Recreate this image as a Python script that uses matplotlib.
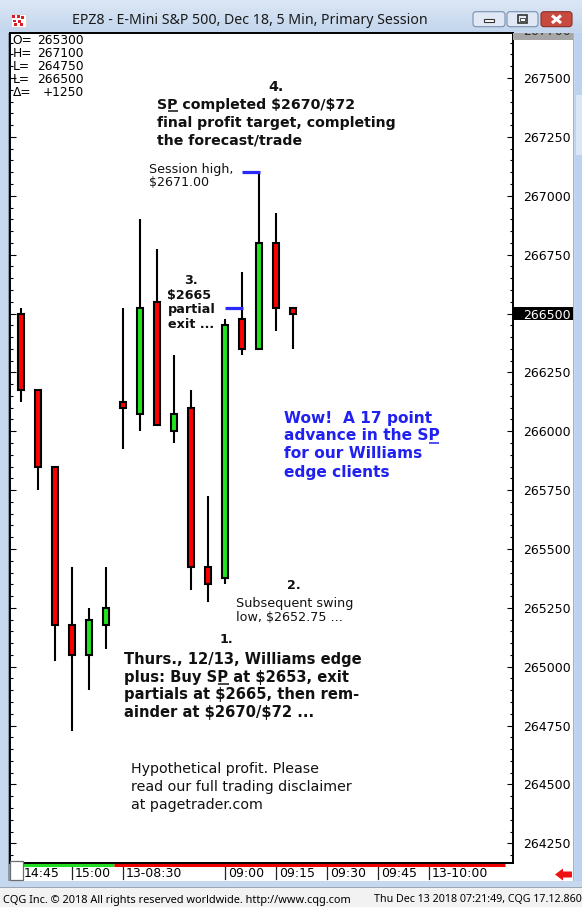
import matplotlib
matplotlib.use('Agg')
import matplotlib.pyplot as plt
import matplotlib.transforms as mtransforms
from matplotlib.patches import Rectangle, FancyBboxPatch, Polygon
from matplotlib.ticker import MultipleLocator, FixedLocator
from matplotlib.colors import LinearSegmentedColormap
import numpy as np

# ---------------- data ----------------
candle_idx = list(range(17))
opens  = [266500, 266175, 265850, 265175, 265050, 265175, 266125, 266075, 266550,
          266000, 266100, 265425, 265375, 266475, 266350, 266800, 266525]
highs  = [266525, 266175, 265850, 265425, 265250, 265425, 266525, 266900, 266775,
          266325, 266175, 265725, 266475, 266675, 267100, 266925, 266525]
lows   = [266125, 265750, 265025, 264725, 264900, 265075, 265925, 266000, 266025,
          265950, 265325, 265275, 265350, 266325, 266350, 266425, 266350]
closes = [266175, 265850, 265175, 265050, 265200, 265250, 266100, 266525, 266025,
          266075, 265425, 265350, 266450, 266350, 266800, 266525, 266500]

time_tick_idx = [0, 3, 6, 12, 15, 18, 21, 24]
time_tick_labels = ['14:45', '15:00', '13-08:30', '09:00', '09:15', '09:30', '09:45', '13-10:00']
prev_session_end = 5.47          # boundary between sessions (bar index)
session_bar_end = 28.47

price_ticks = list(range(264250, 267501, 250))
last_price = 266500
axis_top_label = '267700'

ohlc_keys = ['O=', 'H=', 'L=', 'L=', 'Δ=']
ohlc_vals = ['265300', '267100', '264750', '266500', '+1250']

marker_prices = [266525, 267100]   # partial exit, session high
marker_idx = [13, 14]

title = 'EPZ8 - E-Mini S&P 500, Dec 18, 5 Min, Primary Session'
status_left = 'CQG Inc. © 2018 All rights reserved worldwide. http://www.cqg.com'
status_right = 'Thu Dec 13 2018 07:21:49, CQG 17.12.860'

# ---------------- figure ----------------
W, H = 582, 907
fig = plt.figure(figsize=(W / 100, H / 100), dpi=100)
fig.patch.set_facecolor('#c6d8ee')
renderer = fig.canvas.get_renderer()

def px_axes(l, t, r, b, **kw):
    return fig.add_axes([l / W, 1 - b / H, (r - l) / W, (b - t) / H], **kw)

bg = fig.add_axes([0, 0, 1, 1], zorder=0)
bg.set_xlim(0, W); bg.set_ylim(H, 0); bg.axis('off')

# title bar gradient
grad = np.linspace(0, 1, 64).reshape(-1, 1)
cm = LinearSegmentedColormap.from_list('tb', ['#dce7f5', '#c3d6ed'])
bg.imshow(grad, cmap=cm, extent=(0, W, 32, 0), aspect='auto', zorder=0)
# chart white area
bg.add_patch(Rectangle((10, 33), 563, 848, facecolor='white', edgecolor='none', zorder=1))
bg.add_patch(Rectangle((8, 33), 2, 848, facecolor='#8a9bb0', edgecolor='none', zorder=1))
# scrollbar
bg.add_patch(Rectangle((573, 33), 1, 848, facecolor='#b0b0b0', edgecolor='none', zorder=1))
bg.add_patch(Rectangle((575, 33), 7, 848, facecolor='#bcd2ee', edgecolor='none', zorder=1))
bg.add_patch(Rectangle((576, 95), 6, 60, facecolor='#d9e6f6', edgecolor='none', zorder=1))
# status bar
bg.add_patch(Rectangle((0, 887), W, 1, facecolor='#9aa7b5', edgecolor='none', zorder=1))
bg.add_patch(Rectangle((0, 888), W, 19, facecolor='#f2f2f2', edgecolor='none', zorder=1))

# buttons
def button(x0, x1, face, edge):
    bg.add_patch(FancyBboxPatch((x0, 11.7), x1 - x0, 15, boxstyle='round,pad=0,rounding_size=3',
                                facecolor=face, edgecolor=edge, lw=0.8, zorder=2))
button(473, 505, '#dfe8f4', '#7990ae')
button(507, 538, '#dfe8f4', '#7990ae')
button(541, 572, '#c84a3f', '#8a2f28')
bg.add_patch(Rectangle((484, 19), 10, 3, facecolor='white', edgecolor='#333333', lw=0.8, zorder=3))
bg.add_patch(Rectangle((518, 15), 9, 8, facecolor='none', edgecolor='#333333', lw=1.2, zorder=3))
bg.add_patch(Rectangle((520, 17.5), 5, 3, facecolor='white', edgecolor='#333333', lw=0.6, zorder=3))
bg.plot([552, 561], [15.5, 23], color='white', lw=2.2, zorder=3, solid_capstyle='butt')
bg.plot([552, 561], [23, 15.5], color='white', lw=2.2, zorder=3, solid_capstyle='butt')
# icon
bg.add_patch(Rectangle((10.5, 13.5), 15, 13, facecolor='white', edgecolor='#d0d0d0', lw=0.5, zorder=2))
for (ix, iy) in [(12, 15), (17, 15), (21, 16), (13, 19.5), (18, 20), (14, 23), (20, 23)]:
    bg.add_patch(Rectangle((ix, iy), 3, 2.5, facecolor='#d81f26', edgecolor='none', zorder=3))

# ---------------- main price axes ----------------
ax = px_axes(10, 33, 513, 863, zorder=1)
ax.set_facecolor('white')
px_per_unit = 0.23547
y_last_px = 313.5
ymin = last_price - (863 - y_last_px) / px_per_unit
ymax = last_price + (y_last_px - 33) / px_per_unit
ax.set_ylim(ymin, ymax)
ax.set_xlim((10 - 21) / 17, (513 - 21) / 17)

for s in ax.spines.values():
    s.set_linewidth(1.4)
    s.set_color('black')

body_w = 0.31
for i, o, h, l, c in zip(candle_idx, opens, highs, lows, closes):
    ax.vlines(i, l, h, color='black', lw=1.5, zorder=2)
    col = '#1fe51f' if c > o else '#ff0000'
    lo_, hi_ = min(o, c), max(o, c)
    ax.add_patch(Rectangle((i - body_w / 2, lo_), body_w, hi_ - lo_,
                           facecolor=col, edgecolor='black', lw=1.5, zorder=3))

for mi, mp in zip(marker_idx, marker_prices):
    ax.hlines(mp, mi - 1, mi + 0.06, color='#2a2aff', lw=2.3, zorder=4)

ax.yaxis.set_major_locator(FixedLocator(price_ticks))
ax.yaxis.set_minor_locator(MultipleLocator(50))
ax.tick_params(axis='y', which='both', direction='in', left=True, right=True,
               labelleft=False, labelright=True, width=0.8, colors='black')
ax.tick_params(axis='y', which='major', length=4.5, pad=7.0, labelsize=9)
ax.tick_params(axis='y', which='minor', length=2.0)
ax.yaxis.set_major_formatter(matplotlib.ticker.FuncFormatter(lambda v, p: f'{int(v)}'))
ax.tick_params(axis='x', bottom=False, labelbottom=False)
ax.set_xticks([])

blend = mtransforms.blended_transform_factory(ax.transData, ax.transAxes)
ax_h = 830.0
for ti, tl in zip(time_tick_idx, time_tick_labels):
    ax.plot([ti, ti], [-4 / ax_h, -15.5 / ax_h], transform=blend, color='#222222', lw=0.9, clip_on=False)
    off = mtransforms.ScaledTranslation(3 / 100, -14.3 / 100, fig.dpi_scale_trans)
    ax.text(ti, 0, tl, transform=blend + off, ha='left', va='baseline', fontsize=9,
            family='DejaVu Sans', color='black', clip_on=False)

ax.plot([ax.get_xlim()[0], prev_session_end], [-2 / ax_h, -2 / ax_h], transform=blend,
        color='#22dd22', lw=2.2, clip_on=False, solid_capstyle='butt', zorder=5)
ax.plot([prev_session_end, session_bar_end], [-2 / ax_h, -2 / ax_h], transform=blend,
        color='#ee0000', lw=2.2, clip_on=False, solid_capstyle='butt', zorder=5)

# last price highlight
blend_y = mtransforms.blended_transform_factory(ax.transAxes, ax.transData)
half = 6.5 / px_per_unit
ax.add_patch(Rectangle((1.0, last_price - half), 60 / 503, 2 * half, transform=blend_y,
                       facecolor='black', edgecolor='none', clip_on=False, zorder=1))

# ---------------- overlay (texts, decorations) ----------------
ov = fig.add_axes([0, 0, 1, 1], zorder=5)
ov.set_xlim(0, W); ov.set_ylim(H, 0); ov.axis('off')
ov.patch.set_alpha(0)

def width_of(s, size, weight='normal', family='DejaVu Sans'):
    t = fig.text(0, 0, s, fontsize=size, fontweight=weight, family=family, parse_math=False)
    w = t.get_window_extent(renderer).width
    t.remove()
    return w

def fit(s, target, weight='normal', family='DejaVu Sans'):
    return 10 * target / width_of(s, 10, weight, family)

def put(x, y, s, size, weight='normal', color='#111111', family='DejaVu Sans', ha='left', ul=None):
    ov.text(x, y, s, fontsize=size, fontweight=weight, color=color, family=family,
            ha=ha, va='baseline', parse_math=False)
    if ul is not None:
        a, b = ul
        w0 = width_of(s[:a], size, weight, family) if a > 0 else 0
        w1 = width_of(s[:b], size, weight, family)
        ov.plot([x + w0 + 0.5, x + w1], [y + 2.2, y + 2.2], color=color, lw=1.1,
                solid_capstyle='butt')

# title + status
fs_title = fit(title, 355, family='Noto Sans')
put(72, 24.5, title, fs_title, family='Noto Sans', color='#1a1a1a')
fs_sl = fit(status_left, 348, family='Noto Sans')
put(3, 902.5, status_left, fs_sl, family='Noto Sans', color='#000000')
fs_sr = fit(status_right, 207, family='Noto Sans')
put(374, 902.5, status_right, fs_sr, family='Noto Sans', color='#000000')

# OHLC box
fs_o = fit('265300', 46.5)
for k, (key, val) in enumerate(zip(ohlc_keys, ohlc_vals)):
    yb = 44.5 + 12.8 * k
    put(12.5, yb, key, fs_o, color='black')
    put(83.5, yb, val, fs_o, color='black', ha='right')

# top gray label box (label clipped by the top of the axis)
gbox = Rectangle((513, 32.7), 60, 6.8, facecolor='#a6a6a6', edgecolor='none', zorder=1)
ov.add_patch(gbox)
tt = ov.text(523, 35.4, axis_top_label, fontsize=9, family='DejaVu Sans', color='#333333',
             va='baseline', ha='left', zorder=2, clip_on=True)
tt.set_clip_path(gbox)

# bottom-left gray box
ov.add_patch(Rectangle((10, 861), 13, 19, facecolor='white', edgecolor='#6e6e6e', lw=0.9))
# red arrow
ov.add_patch(Polygon([[555, 874.5], [563, 868.5], [563, 871.5], [572, 871.5],
                      [572, 877.5], [563, 877.5], [563, 880.5]], closed=True,
                     facecolor='#ee1111', edgecolor='none'))

# annotation 4
fs4 = fit('final profit target, completing', 238, weight='bold')
put(276, 91, '4.', fs4, weight='bold', ha='center')
put(157, 108.5, 'SP completed $2670/$72', fs4, weight='bold', ul=(1, 2))
put(157, 126.5, 'final profit target, completing', fs4, weight='bold')
put(157, 144.5, 'the forecast/trade', fs4, weight='bold')

# session high
fs_sh = fit('Session high,', 83)
put(149, 173, 'Session high,', fs_sh)
put(149, 186.5, '$2671.00', fs_sh)

# annotation 3
fs3 = fit('$2665', 44.4, weight='bold')
put(191, 284, '3.', fs3, weight='bold', ha='center')
put(167.5, 299, '$2665', fs3, weight='bold')
put(167.5, 313.5, 'partial', fs3, weight='bold')
put(167.5, 328, 'exit ...', fs3, weight='bold')

# blue block
fsb = fit('Wow!  A 17 point', 148, weight='bold')
blue = '#2020f0'
put(283.5, 422.7, 'Wow!  A 17 point', fsb, weight='bold', color=blue)
put(283.5, 440.5, 'advance in the SP', fsb, weight='bold', color=blue, ul=(16, 17))
put(283.5, 458.5, 'for our Williams', fsb, weight='bold', color=blue)
put(283.5, 476.6, 'edge clients', fsb, weight='bold', color=blue)

# annotation 2
fs2 = fit('Subsequent swing', 117)
put(293.6, 589.3, '2.', fs3, weight='bold', ha='center')
put(235.5, 607.3, 'Subsequent swing', fs2)
put(235.5, 621, 'low, $2652.75 ...', fs2)

# annotation 1
fs1 = fit('Thurs., 12/13, Williams edge', 237, weight='bold')
put(226, 643.3, '1.', fs3, weight='bold', ha='center')
put(124.5, 664, 'Thurs., 12/13, Williams edge', fs1, weight='bold')
put(124.5, 681.7, 'plus: Buy SP at $2653, exit', fs1, weight='bold', ul=(11, 12))
put(124.5, 699.3, 'partials at $2665, then rem-', fs1, weight='bold')
put(124.5, 716.8, 'ainder at $2670/$72 ...', fs1, weight='bold')

# disclaimer
fsd = fit('read our full trading disclaimer', 222)
put(131, 773, 'Hypothetical profit. Please', fsd)
put(131, 791, 'read our full trading disclaimer', fsd)
put(131, 809, 'at pagetrader.com', fsd)

# last price label white
fig.canvas.draw()
for t in ax.yaxis.get_major_ticks():
    if abs(t.get_loc() - last_price) < 1:
        t.label2.set_color('white')

fig.savefig('out.png', dpi=100, facecolor=fig.get_facecolor())
